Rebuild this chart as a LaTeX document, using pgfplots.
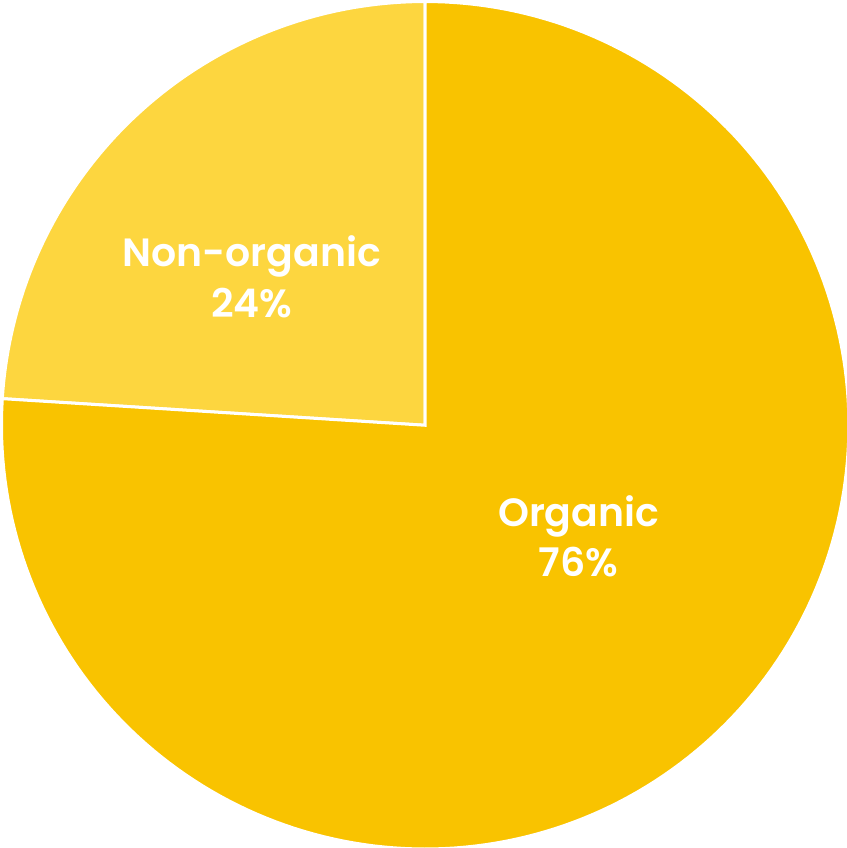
\documentclass[border=0pt]{standalone}
\usepackage{pgfplots}
\usepackage{pgfplotstable}
\pgfplotsset{compat=1.18}
\usepackage{fontspec}
\setmainfont{Poppins}
\newfontfamily\labfont{Poppins SemiBold}
\definecolor{organic}{HTML}{F9C300}
\definecolor{nonorganic}{HTML}{FDD63F}
\pgfplotstableread{
label value
Non-organic 24
Organic 76
}\piedata
\pgfplotstablegetelem{0}{value}\of\piedata
\pgfmathsetmacro{\angA}{90+3.6*\pgfplotsretval}
\pgfplotstablegetelem{1}{value}\of\piedata
\pgfmathsetmacro{\angB}{\angA+3.6*\pgfplotsretval}
\begin{document}
\begin{tikzpicture}
\begin{axis}[
  scale only axis,
  width=254.4pt, height=254.1pt,
  xmin=-1.0095, xmax=0.9953,
  ymin=-0.9976, ymax=1.0047,
  hide axis,
]
\addplot[fill=nonorganic, draw=white, line width=0.9pt, domain=90:\angA, samples=80, variable=\t]
  ({cos(\t)},{sin(\t)}) -- (axis cs:0,0) -- cycle;
\addplot[fill=organic, draw=white, line width=0.9pt, domain=\angA:\angB, samples=200, variable=\t]
  ({cos(\t)},{sin(\t)}) -- (axis cs:0,0) -- cycle;
\node[text=white, align=center, font=\labfont\fontsize{11.8}{15.2}\selectfont] at (axis cs:-0.409,0.350) {Non-organic\\24\%};
\node[text=white, align=center, font=\labfont\fontsize{11.8}{15.2}\selectfont] at (axis cs:0.362,-0.262) {Organic\\76\%};
\end{axis}
\end{tikzpicture}
\end{document}
